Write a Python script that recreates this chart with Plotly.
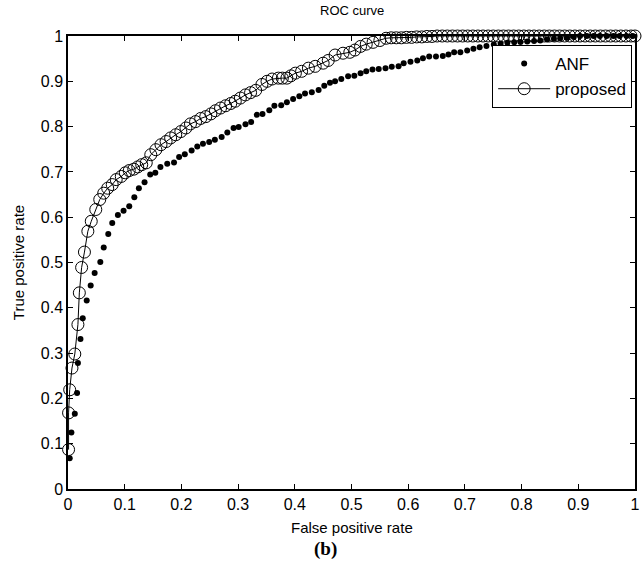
import plotly.graph_objects as go

# ---- data ----
anf_fpr = [0.003, 0.006, 0.012, 0.016, 0.0175, 0.022, 0.026, 0.033, 0.040, 0.047,
           0.057, 0.063, 0.071, 0.078, 0.088, 0.098, 0.108, 0.117, 0.125, 0.135,
           0.145, 0.154, 0.163, 0.175, 0.187, 0.196, 0.206, 0.218, 0.228, 0.238,
           0.249, 0.259, 0.271, 0.281, 0.292, 0.301, 0.313, 0.323, 0.333, 0.343,
           0.355, 0.364, 0.376, 0.386, 0.397, 0.408, 0.418, 0.430, 0.442, 0.452,
           0.462, 0.471, 0.482, 0.494, 0.505, 0.516, 0.526, 0.537, 0.548, 0.560,
           0.571, 0.583, 0.592, 0.604, 0.616, 0.626, 0.637, 0.649, 0.661, 0.671,
           0.681, 0.692, 0.704, 0.715, 0.726, 0.738, 0.751, 0.763, 0.775, 0.787,
           0.798, 0.810, 0.822, 0.833, 0.845, 0.857, 0.868, 0.880, 0.892, 0.903,
           0.915, 0.927, 0.938, 0.950, 0.962, 0.973, 0.985, 0.996]
anf_tpr = [0.068, 0.125, 0.166, 0.212, 0.278, 0.331, 0.377, 0.416, 0.449, 0.477,
           0.501, 0.533, 0.563, 0.587, 0.605, 0.614, 0.624, 0.644, 0.664, 0.677,
           0.694, 0.698, 0.711, 0.718, 0.721, 0.733, 0.739, 0.747, 0.756, 0.762,
           0.766, 0.771, 0.777, 0.787, 0.797, 0.799, 0.805, 0.810, 0.826, 0.828,
           0.836, 0.846, 0.847, 0.854, 0.861, 0.867, 0.873, 0.876, 0.881, 0.890,
           0.897, 0.900, 0.905, 0.911, 0.912, 0.918, 0.922, 0.926, 0.927, 0.929,
           0.932, 0.933, 0.940, 0.943, 0.946, 0.951, 0.955, 0.955, 0.956, 0.959,
           0.964, 0.964, 0.968, 0.972, 0.975, 0.978, 0.981, 0.983, 0.985, 0.986,
           0.987, 0.988, 0.989, 0.990, 0.992, 0.994, 0.995, 0.996, 0.998, 1.000,
           1.000, 1.000, 1.000, 1.000, 1.000, 1.000, 1.000, 1.000]

prop_fpr = [0.001, 0.001, 0.003, 0.007, 0.012, 0.0175, 0.020, 0.024, 0.029, 0.035,
            0.041, 0.049, 0.056, 0.063, 0.070, 0.078, 0.085, 0.094, 0.101, 0.108,
            0.116, 0.123, 0.130, 0.138, 0.146, 0.155, 0.164, 0.173, 0.181, 0.190,
            0.199, 0.208, 0.216, 0.225, 0.234, 0.243, 0.252, 0.260, 0.269, 0.278,
            0.287, 0.295, 0.304, 0.313, 0.322, 0.331, 0.342, 0.351, 0.360, 0.371,
            0.378, 0.386, 0.393, 0.401, 0.412, 0.424, 0.436, 0.450, 0.459, 0.471,
            0.485, 0.497, 0.506, 0.516, 0.526, 0.538, 0.550, 0.561, 0.570, 0.579,
            0.588, 0.597, 0.606, 0.615, 0.624, 0.633, 0.642, 0.651, 0.660, 0.669,
            0.678, 0.687, 0.696, 0.705, 0.714, 0.723, 0.732, 0.741, 0.750, 0.759,
            0.768, 0.777, 0.786, 0.795, 0.804, 0.813, 0.822, 0.831, 0.840, 0.849,
            0.858, 0.867, 0.876, 0.885, 0.894, 0.903, 0.912, 0.921, 0.930, 0.939,
            0.948, 0.957, 0.966, 0.975, 0.984, 0.993, 1.000]
prop_tpr = [0.087, 0.168, 0.219, 0.267, 0.298, 0.363, 0.433, 0.489, 0.523, 0.569,
            0.591, 0.617, 0.639, 0.653, 0.664, 0.672, 0.683, 0.690, 0.698, 0.703,
            0.706, 0.711, 0.716, 0.720, 0.738, 0.749, 0.760, 0.767, 0.775, 0.782,
            0.789, 0.797, 0.806, 0.811, 0.818, 0.822, 0.828, 0.835, 0.841, 0.846,
            0.851, 0.856, 0.863, 0.870, 0.875, 0.880, 0.893, 0.900, 0.905, 0.907,
            0.907, 0.907, 0.912, 0.918, 0.922, 0.929, 0.933, 0.940, 0.946, 0.958,
            0.962, 0.964, 0.969, 0.977, 0.982, 0.986, 0.990, 0.995, 0.996, 0.996,
            0.996, 0.997, 0.997, 0.998, 0.998, 0.999, 0.999, 1.000, 1.000, 1.000,
            1.000, 1.000, 1.000, 1.000, 1.000, 1.000, 1.000, 1.000, 1.000, 1.000,
            1.000, 1.000, 1.000, 1.000, 1.000, 1.000, 1.000, 1.000, 1.000, 1.000,
            1.000, 1.000, 1.000, 1.000, 1.000, 1.000, 1.000, 1.000, 1.000, 1.000,
            1.000, 1.000, 1.000, 1.000, 1.000, 1.000, 1.000]

tick_vals = [0, 0.1, 0.2, 0.3, 0.4, 0.5, 0.6, 0.7, 0.8, 0.9, 1]
tick_text = ["0", "0.1", "0.2", "0.3", "0.4", "0.5", "0.6", "0.7", "0.8", "0.9", "1"]

FONT = "Liberation Sans, Arial, Helvetica, sans-serif"

fig = go.Figure()
fig.add_trace(go.Scatter(
    x=anf_fpr, y=anf_tpr, name="ANF", mode="markers",
    marker=dict(symbol="circle", size=6, color="black"),
    cliponaxis=False,
))
fig.add_trace(go.Scatter(
    x=prop_fpr, y=prop_tpr, name="proposed", mode="lines+markers",
    line=dict(color="black", width=1),
    marker=dict(symbol="circle-open", size=12, color="black", line=dict(width=1)),
    cliponaxis=False,
))

axis_common = dict(
    range=[0, 1], tickvals=tick_vals, ticktext=tick_text,
    showline=True, linecolor="black", linewidth=1.5, mirror="ticks",
    ticks="inside", ticklen=5, tickwidth=1, tickcolor="black",
    showgrid=False, zeroline=False,
    tickfont=dict(family=FONT, size=16, color="black"),
)

fig.update_layout(
    width=643, height=575,
    margin=dict(l=68, r=3, t=36, b=86),
    paper_bgcolor="white", plot_bgcolor="white",
    xaxis=dict(**axis_common),
    yaxis=dict(**axis_common),
    showlegend=True,
    legend=dict(
        x=0.995, y=0.980, xanchor="right", yanchor="top",
        bgcolor="white", bordercolor="black", borderwidth=1,
        font=dict(family=FONT, size=17, color="black"),
        itemwidth=52,
    ),
    annotations=[
        dict(text="ROC curve", x=0.5, y=1.057, xref="paper", yref="paper",
             showarrow=False, font=dict(family=FONT, size=13, color="black"),
             xanchor="center", yanchor="middle"),
        dict(text="True positive rate", x=-0.087, y=0.5, xref="paper", yref="paper",
             showarrow=False, textangle=-90,
             font=dict(family=FONT, size=15, color="black"),
             xanchor="center", yanchor="middle"),
        dict(text="False positive rate", x=0.5, y=-0.084, xref="paper", yref="paper",
             showarrow=False, font=dict(family=FONT, size=15, color="black"),
             xanchor="center", yanchor="middle"),
        dict(text="<b>(b)</b>", x=0.454, y=-0.132, xref="paper", yref="paper",
             showarrow=False,
             font=dict(family="Liberation Serif, Times New Roman, serif", size=19, color="black"),
             xanchor="center", yanchor="middle"),
    ],
)

fig.write_html(
    "out.html",
    config={"displayModeBar": False},
    post_script="document.body.style.margin='0';document.body.style.overflow='hidden';",
)
